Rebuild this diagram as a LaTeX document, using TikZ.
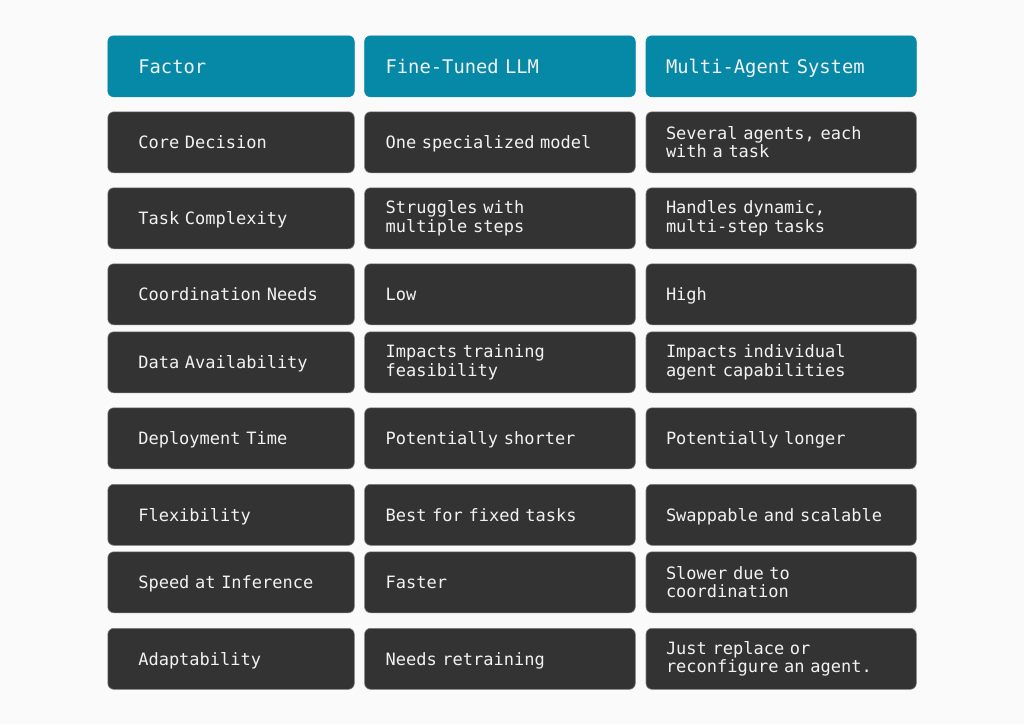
\documentclass[tikz,border=0pt]{standalone}
\usepackage{fontspec}
\setmonofont{DejaVu Sans Mono}
\usepackage{xcolor}
\definecolor{ColBack}{RGB}{250,250,250}
\definecolor{ColHead}{RGB}{6,137,166}
\definecolor{ColCell}{RGB}{51,51,51}
\definecolor{ColEdge}{RGB}{125,125,125}
\definecolor{ColText}{RGB}{242,242,242}
\usepackage{tikz}
\tikzstyle{Cell}=[draw=ColEdge,line width=0.6pt,fill=ColCell,
    rounded corners=6pt,anchor=north west,minimum height=61pt,
    inner ysep=0pt,align=left,text=ColText,text depth=0pt,
    font=\ttfamily\fontsize{17}{18.4}\selectfont]
\tikzstyle{Two}=[text depth={}]
\tikzstyle{Head}=[Cell,fill=ColHead,draw=ColHead,
    font=\ttfamily\fontsize{18.8}{20}\selectfont]
\tikzstyle{ColA}=[inner xsep=30.5pt,text width=185.5pt,minimum width=246.5pt]
\tikzstyle{ColB}=[inner xsep=21pt,text width=228.7pt,minimum width=270.7pt]
\tikzstyle{ColC}=[inner xsep=20pt,text width=230.3pt,minimum width=270.3pt]

\begin{document}
\begin{tikzpicture}[x=1pt,y=-1pt]
        \fill[ColBack](0,0)rectangle(1024,724);
        \useasboundingbox(0,0)rectangle(1024,724);
        % header
        \node[Head,ColA](HF)at(107.5,35.5){Factor};
        \node[Head,ColB](HL)at(364.3,35.5){Fine-Tuned LLM};
        \node[Head,ColC](HM)at(645.7,35.5){Multi-Agent System};
        % rows
        \node[Cell,ColA](F1)at(107.5,111.5){Core Decision};
        \node[Cell,ColB](L1)at(364.3,111.5){One specialized model};
        \node[Cell,ColC,Two](M1)at(645.7,111.5){Several agents, each\\with a task};
        \node[Cell,ColA](F2)at(107.5,187.5){Task Complexity};
        \node[Cell,ColB,Two](L2)at(364.3,187.5){Struggles with\\multiple steps};
        \node[Cell,ColC,Two](M2)at(645.7,187.5){Handles dynamic,\\multi-step tasks};
        \node[Cell,ColA](F3)at(107.5,263.5){Coordination Needs};
        \node[Cell,ColB](L3)at(364.3,263.5){Low};
        \node[Cell,ColC](M3)at(645.7,263.5){High};
        \node[Cell,ColA](F4)at(107.5,331.5){Data Availability};
        \node[Cell,ColB,Two](L4)at(364.3,331.5){Impacts training\\feasibility};
        \node[Cell,ColC,Two](M4)at(645.7,331.5){Impacts individual\\agent capabilities};
        \node[Cell,ColA](F5)at(107.5,407.5){Deployment Time};
        \node[Cell,ColB](L5)at(364.3,407.5){Potentially shorter};
        \node[Cell,ColC](M5)at(645.7,407.5){Potentially longer};
        \node[Cell,ColA](F6)at(107.5,484){Flexibility};
        \node[Cell,ColB](L6)at(364.3,484){Best for fixed tasks};
        \node[Cell,ColC](M6)at(645.7,484){Swappable and scalable};
        \node[Cell,ColA](F7)at(107.5,551.5){Speed at Inference};
        \node[Cell,ColB](L7)at(364.3,551.5){Faster};
        \node[Cell,ColC,Two](M7)at(645.7,551.5){Slower due to\\coordination};
        \node[Cell,ColA](F8)at(107.5,628){Adaptability};
        \node[Cell,ColB](L8)at(364.3,628){Needs retraining};
        \node[Cell,ColC,Two](M8)at(645.7,628){Just replace or\\reconfigure an agent.};
    \end{tikzpicture}
\end{document}
